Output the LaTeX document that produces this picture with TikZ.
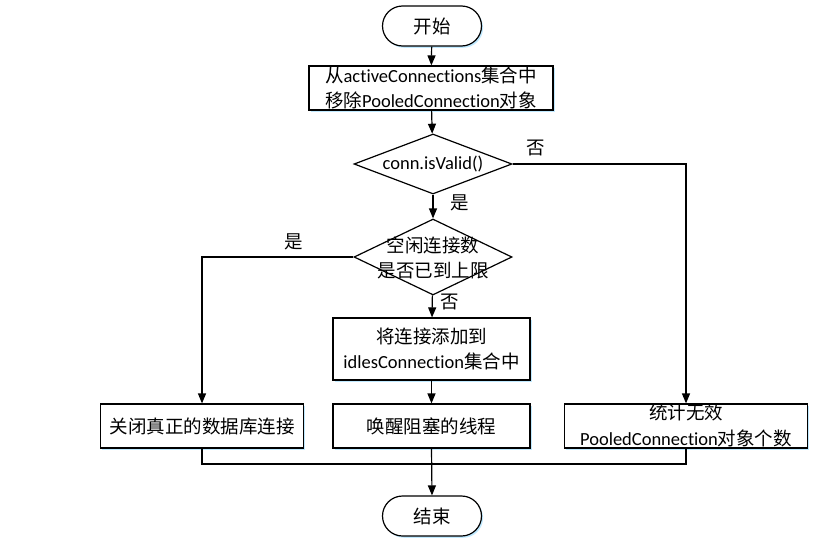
\documentclass[tikz,border=0pt]{standalone}
\usepackage{fontspec}
\setmainfont{Carlito}[Ligatures=NoCommon]
\newfontfamily\cjk{Noto Sans CJK SC}
\usetikzlibrary{shapes.geometric,shapes.misc,arrows.meta,shadows}
\begin{document}
\begin{tikzpicture}[x=1pt,y=-1pt,
  line width=1.2pt,
  txt/.style={font=\fontsize{18.5}{25}\selectfont, align=center, inner sep=0pt},
  shade/.style={drop shadow={shadow xshift=1.6pt, shadow yshift=-1.8pt, fill=blue!35!cyan!25, opacity=1}},
  term/.style={draw, rounded rectangle, minimum width=99pt, minimum height=40pt, fill=white, shade, txt},
  pbox/.style={draw, rectangle, fill=white, shade, txt},
  dec/.style={draw, diamond, fill=white, inner sep=0pt},
  arr/.style={-{Triangle[length=10pt,width=8pt]}},
  lab/.style={txt}
]
\useasboundingbox (0,0) rectangle (832,549);

\node[term] (start) at (432,26) {\cjk 开始};
\node[pbox, minimum width=244pt, minimum height=44pt] (box1) at (431,88)
  {{\cjk 从}activeConnections{\cjk 集合中}\\{\cjk 移除}PooledConnection{\cjk 对象}};
\node[dec, minimum width=158pt, minimum height=60pt] (d1) at (433,164) {};
\node[txt] at (d1) {conn.isValid()};
\node[dec, minimum width=158pt, minimum height=76pt] (d2) at (433,257) {};
\node[txt] at (433,258) {{\cjk 空闲连接数}\\{\cjk 是否已到上限}};
\node[pbox, minimum width=197pt, minimum height=62pt] (idles) at (431.5,349)
  {{\cjk 将连接添加到}\\idlesConnection{\cjk 集合中}};
\node[pbox, minimum width=203pt, minimum height=44pt] (close) at (202,426) {\cjk 关闭真正的数据库连接};
\node[pbox, minimum width=197pt, minimum height=44pt] (wake) at (431.5,426) {\cjk 唤醒阻塞的线程};
\node[pbox, minimum width=243pt, minimum height=44pt] (count) at (686,426) {};
\node[txt, font=\fontsize{18.5}{26}\selectfont] at (686,425) {{\cjk 统计无效}\\PooledConnection{\cjk 对象个数}};
\node[term] (end) at (432,516) {\cjk 结束};

\coordinate (j) at (432,464);

\draw[arr] (start) -- (box1);
\draw[arr] (box1) -- (d1);
\draw[arr] (d1) -- (d2);
\draw[arr] (d1.east) -| (count.north);
\draw[arr] (d2.west) -| (close.north);
\draw[arr] (d2) -- (idles);
\draw[arr] (idles) -- (wake);
\draw (close.south) |- (j) -| (count.south);
\draw[arr] (wake.south) -- (end.north);

\node[lab] at (536,148) {\cjk 否};
\node[lab] at (460,203) {\cjk 是};
\node[lab] at (294,242) {\cjk 是};
\node[lab] at (450,302) {\cjk 否};
\end{tikzpicture}
\end{document}
